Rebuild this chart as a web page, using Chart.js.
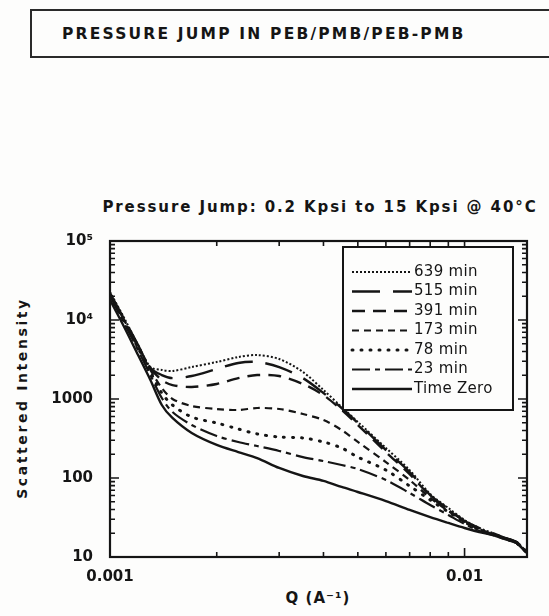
<!DOCTYPE html>
<html>
<head>
<meta charset="utf-8">
<title>Pressure Jump</title>
<script src="https://cdn.jsdelivr.net/npm/chart.js@4.4.1/dist/chart.umd.min.js"></script>
<style>
  html, body { margin: 0; padding: 0; background: #fdfdfc; overflow: hidden; }
  body { width: 549px; height: 616px; position: relative; font-family: 'DejaVu Sans', sans-serif; color: #151515; }
  #scatterChart { position: absolute; left: 0; top: 0; }
  .banner { position: absolute; left: 30px; top: 9px; width: 560px; height: 49px; border: 2px solid #2a2a2a; box-sizing: border-box; }
  .banner span { position: absolute; left: 30px; top: 14px; font-weight: bold; font-size: 15.5px; letter-spacing: 2.2px; }
  .plot-title { position: absolute; left: 92px; width: 456px; top: 198px; text-align: center; font-weight: bold; font-size: 15px; letter-spacing: 1.9px; }
  .y-title { position: absolute; left: 22px; top: 398px; transform: translate(-50%, -50%) rotate(-90deg); white-space: nowrap; font-weight: bold; font-size: 14px; letter-spacing: 2.6px; }
  .x-title { position: absolute; left: 258px; width: 120px; top: 589px; text-align: center; font-weight: bold; font-size: 15px; letter-spacing: 1px; }
</style>
</head>
<body>
<div class="banner"><span>PRESSURE JUMP IN PEB/PMB/PEB-PMB</span></div>
<div class="plot-title">Pressure Jump: 0.2 Kpsi to 15 Kpsi @ 40°C</div>
<div class="y-title">Scattered Intensity</div>
<div class="x-title">Q (A⁻¹)</div>
<canvas id="scatterChart" width="549" height="616"></canvas>
<script>
// scattering vector Q (1/A)
const qValues = [0.001, 0.0011, 0.0012, 0.0013, 0.0014, 0.0015, 0.0017, 0.002, 0.0023, 0.0026,
                 0.003, 0.0035, 0.004, 0.0045, 0.005, 0.006, 0.007, 0.008, 0.009, 0.01,
                 0.011, 0.012, 0.013, 0.014, 0.015];

// scattered intensity after the jump
const min639 = [22600, 10300, 4830, 2540, 2330, 2260, 2540, 2940, 3400, 3600,
                3210, 2200, 1300, 792, 512, 240, 126, 62.7, 41.7, 29.4,
                23.3, 20.1, 17.4, 15.5, 11.6];
const min515 = [22000, 10000, 4830, 2470, 2010, 1840, 1955, 2400, 2860, 2940,
                2540, 1840, 1190, 769, 497, 226, 119, 60.9, 40.5, 28.6,
                23.3, 20.1, 17.4, 15.5, 11.9];
const min391 = [21300, 9710, 4690, 2470, 1740, 1500, 1420, 1550, 1840, 2010,
                1955, 1550, 1120, 726, 469, 213, 112, 59.2, 39.4, 28.6,
                22.6, 19.5, 17.4, 15.5, 11.6];
const min173 = [20700, 9430, 4550, 2330, 1380, 1000, 815, 747, 726, 769,
                747, 646, 542, 405, 286, 159, 94.3, 55.8, 38.2, 27.7,
                22.6, 19.5, 17.4, 15.5, 11.6];
const min78 = [20100, 9430, 4420, 2200, 1190, 840, 592, 497, 417, 361,
               330, 321, 286, 240, 184, 126, 79.2, 52.7, 37.1, 27.7,
               22.0, 19.5, 16.9, 15.0, 11.2];
const min23 = [20100, 8900, 4170, 2010, 1030, 685, 469, 340, 286, 254,
               220, 184, 164, 146, 130, 94.3, 64.6, 45.5, 34.0, 26.2,
               21.3, 19.0, 16.9, 15.0, 11.2];
const timeZero = [17900, 7920, 3600, 1740, 840, 575, 371, 262, 213, 179,
                  134, 106, 92, 77, 66.5, 51, 39.4, 32, 27, 23.3,
                  20.7, 19.0, 16.9, 15.0, 11.2];

const seriesLabels = ['639 min', '515 min', '391 min', '173 min', '78 min', '23 min', 'Time Zero'];
const seriesValues = [min639, min515, min391, min173, min78, min23, timeZero];

const yTickValues = [10, 100, 1000, 10000, 100000];
const yTickLabels = ['10', '100', '1000', '10⁴', '10⁵'];
const xTickValues = [0.001, 0.01];
const xTickLabels = ['0.001', '0.01'];

// line patterns, one per series
const lineStyles = [
    { dash: [2, 2], width: 2, cap: 'butt' },
    { dash: [28, 13], width: 2.4, cap: 'butt' },
    { dash: [13, 8], width: 2.4, cap: 'butt' },
    { dash: [7, 5], width: 2.2, cap: 'butt' },
    { dash: [1, 8], width: 3, cap: 'round' },
    { dash: [18, 5, 5, 5], width: 2.2, cap: 'butt' },
    { dash: [], width: 2.4, cap: 'butt' }
];

const ink = '#151515';
const tickFont = { family: 'DejaVu Sans', size: 15, weight: 'bold' };

// frame with inward log ticks on all four sides
const frameTicks = {
    id: 'frameTicks',
    afterDatasetsDraw(chart) {
        const { ctx, chartArea: a, scales: { x, y } } = chart;
        ctx.save();
        ctx.strokeStyle = ink;
        ctx.lineWidth = 2.2;
        ctx.strokeRect(a.left, a.top, a.right - a.left, a.bottom - a.top);
        ctx.lineWidth = 1.6;
        ctx.beginPath();
        for (let e = 1; e < 5; e++) {
            for (let m = 1; m < 10; m++) {
                const py = y.getPixelForValue(m * Math.pow(10, e));
                const len = m === 1 ? 9 : 5;
                ctx.moveTo(a.left, py); ctx.lineTo(a.left + len, py);
                ctx.moveTo(a.right, py); ctx.lineTo(a.right - len, py);
            }
        }
        for (let e = -3; e < -1; e++) {
            for (let m = 1; m < 10; m++) {
                const v = m * Math.pow(10, e);
                if (v > x.max) break;
                const px = x.getPixelForValue(v);
                const len = m === 1 ? 9 : 5;
                ctx.moveTo(px, a.bottom); ctx.lineTo(px, a.bottom - len);
                ctx.moveTo(px, a.top); ctx.lineTo(px, a.top + len);
            }
        }
        ctx.stroke();
        ctx.restore();
    }
};

// boxed key in the upper right of the plot
const keyBox = {
    id: 'keyBox',
    afterDraw(chart) {
        const { ctx, chartArea: a } = chart;
        const w = 170, h = 163;
        const left = a.right - 14 - w, top = a.top + 6;
        ctx.save();
        ctx.fillStyle = '#fdfdfc';
        ctx.fillRect(left, top, w, h);
        ctx.strokeStyle = ink;
        ctx.lineWidth = 2;
        ctx.strokeRect(left, top, w, h);
        ctx.font = '15px "DejaVu Sans", sans-serif';
        ctx.letterSpacing = '0.3px';
        ctx.textBaseline = 'middle';
        ctx.fillStyle = ink;
        chart.data.datasets.forEach((ds, i) => {
            const ty = top + 25 + i * 19.5;
            ctx.setLineDash(ds.borderDash);
            ctx.lineWidth = ds.borderWidth;
            ctx.lineCap = ds.borderCapStyle;
            ctx.beginPath();
            ctx.moveTo(left + 9, ty);
            ctx.lineTo(left + 69, ty);
            ctx.stroke();
            ctx.setLineDash([]);
            ctx.fillText(ds.label, left + 71, ty);
        });
        ctx.restore();
    }
};

const datasets = seriesLabels.map((label, i) => ({
    label: label,
    data: qValues.map((q, j) => ({ x: q, y: seriesValues[i][j] })),
    borderColor: ink,
    borderWidth: lineStyles[i].width,
    borderDash: lineStyles[i].dash,
    borderCapStyle: lineStyles[i].cap,
    pointRadius: 0,
    tension: 0.3,
    fill: false
}));

const ctx = document.getElementById('scatterChart').getContext('2d');
const scatterChart = new Chart(ctx, {
    type: 'line',
    data: { datasets: datasets },
    options: {
        responsive: false,
        animation: false,
        devicePixelRatio: 1,
        layout: { padding: { top: 241, left: 0, right: 22, bottom: 0 } },
        plugins: {
            legend: { display: false },
            tooltip: { enabled: false }
        },
        scales: {
            x: {
                type: 'logarithmic',
                min: 0.001,
                max: 0.015,
                grid: { display: false, drawTicks: false },
                border: { display: false },
                afterBuildTicks: (scale) => { scale.ticks = xTickValues.map(v => ({ value: v })); },
                afterFit: (scale) => { scale.height = 59; },
                ticks: {
                    autoSkip: false,
                    maxRotation: 0,
                    padding: 11,
                    color: ink,
                    font: tickFont,
                    callback: (value, index) => xTickLabels[index]
                }
            },
            y: {
                type: 'logarithmic',
                min: 10,
                max: 100000,
                grid: { display: false, drawTicks: false },
                border: { display: false },
                afterBuildTicks: (scale) => { scale.ticks = yTickValues.map(v => ({ value: v })); },
                afterFit: (scale) => { scale.width = 110; },
                ticks: {
                    autoSkip: false,
                    padding: 17,
                    color: ink,
                    font: tickFont,
                    callback: (value, index) => yTickLabels[index]
                }
            }
        }
    },
    plugins: [frameTicks, keyBox]
});
</script>
</body>
</html>
